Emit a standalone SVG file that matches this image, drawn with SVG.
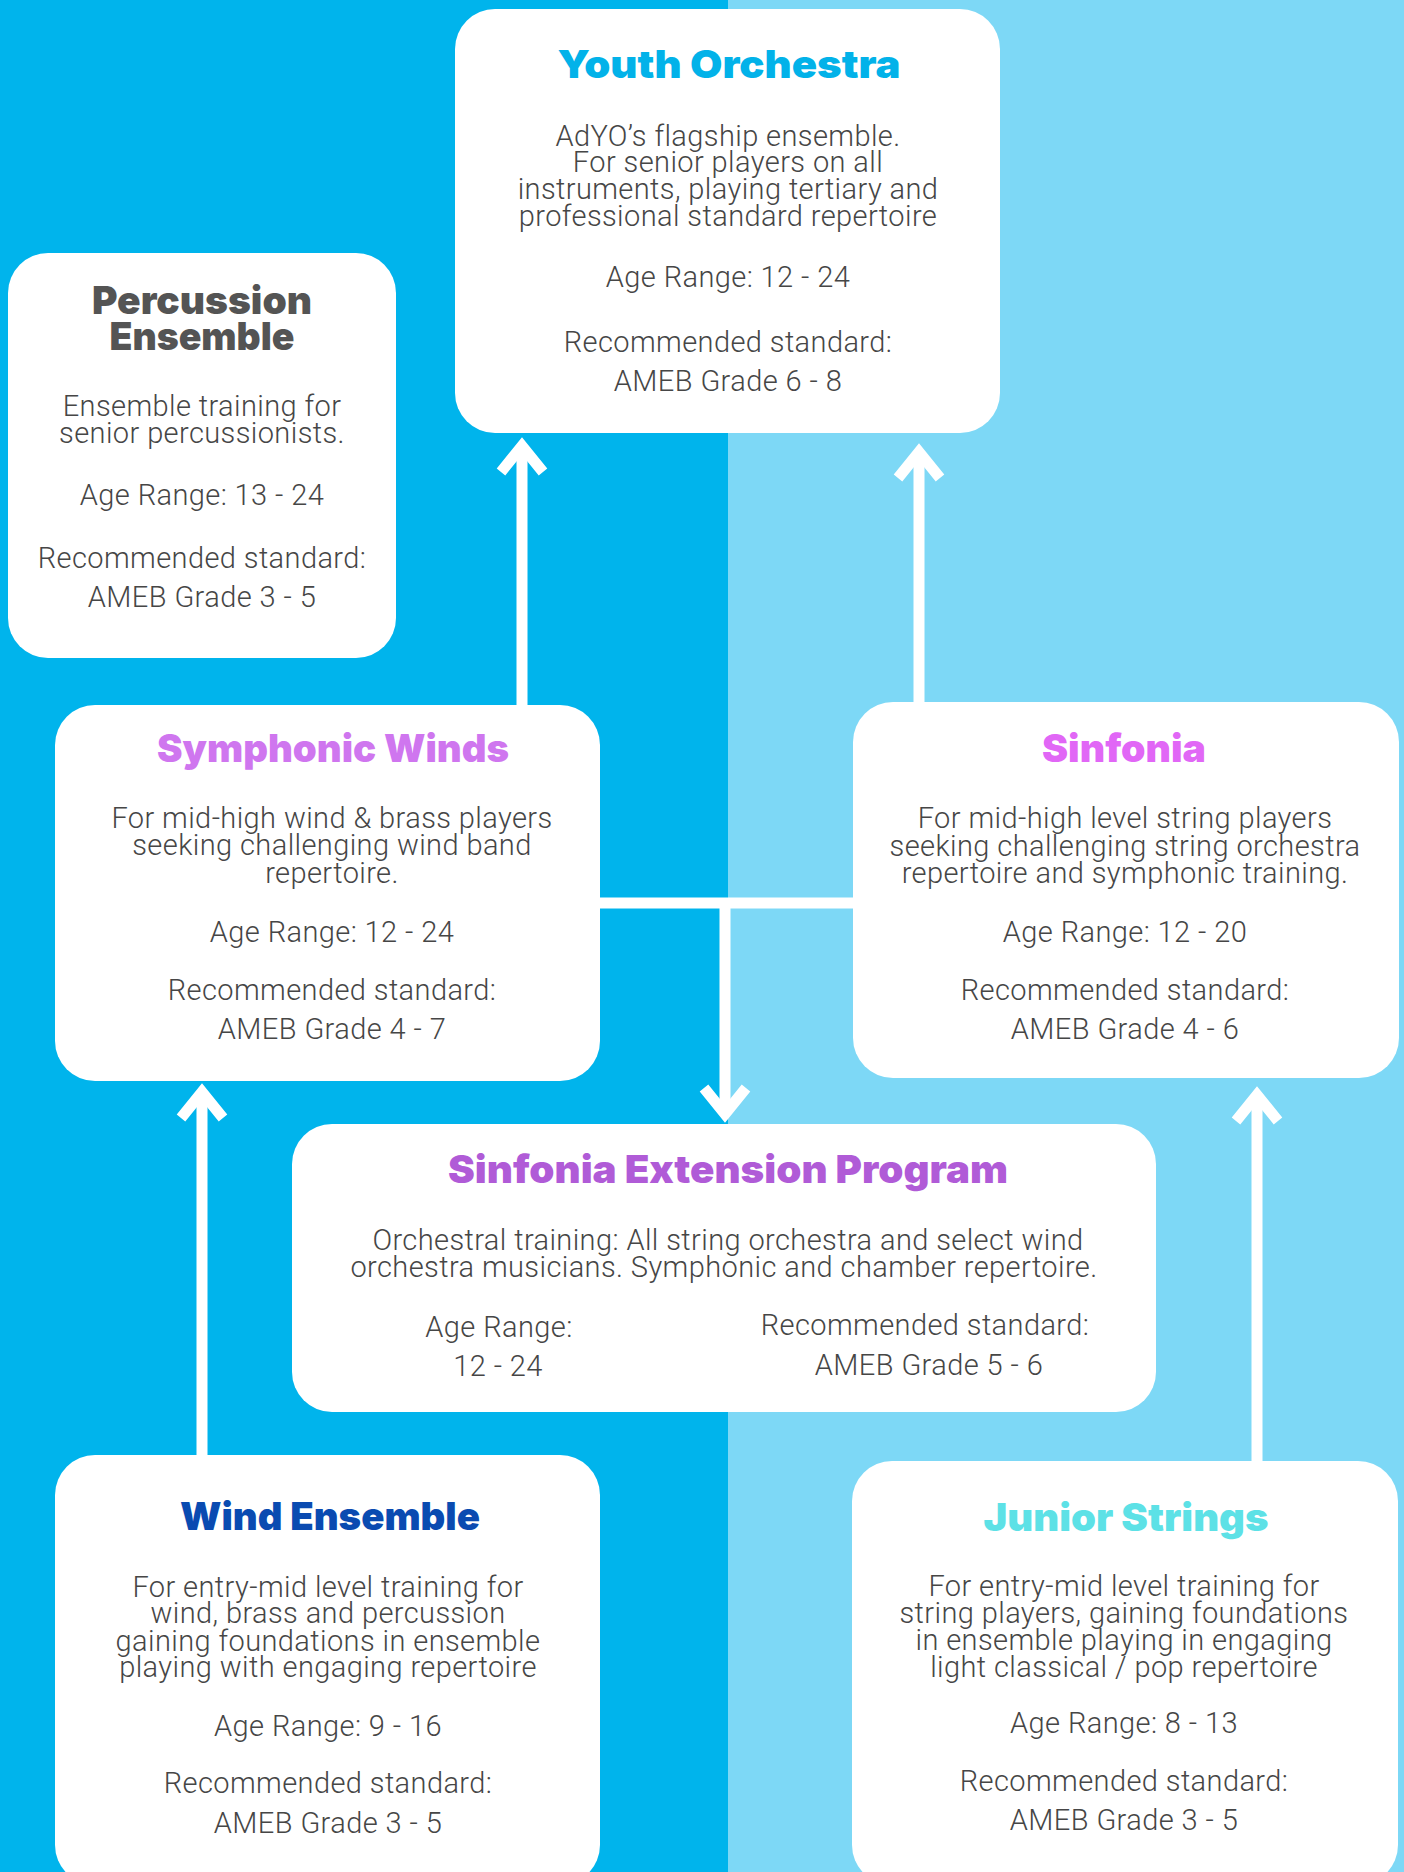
<svg xmlns="http://www.w3.org/2000/svg" width="1404" height="1872" viewBox="0 0 1404 1872">
<style>
.box{fill:#ffffff}
.t{font-family:Inter,"Open Sans",sans-serif;font-weight:900;font-size:39px;text-anchor:middle}
.b{font-family:Roboto,"Liberation Sans",sans-serif;font-weight:300;font-size:29px;fill:#464646;text-anchor:middle;letter-spacing:0.4px}
.c{stroke:#ffffff;stroke-width:11;fill:none}
</style>
<defs>
<marker id="chev" markerUnits="userSpaceOnUse" orient="auto" refX="0" refY="0" markerWidth="60" markerHeight="60" viewBox="-40 -30 50 60" overflow="visible">
<path d="M -26 -21 L 0 0 L -26 21" fill="none" stroke="#ffffff" stroke-width="11"/>
</marker>
</defs>
<rect x="0" y="0" width="728" height="1872" fill="#00b4ec"/>
<rect x="728" y="0" width="676" height="1872" fill="#7dd8f6"/>
<g id="connectors">
<path class="c" d="M522 705 L522 446" marker-end="url(#chev)"/>
<path class="c" d="M919 702 L919 452" marker-end="url(#chev)"/>
<path class="c" d="M600 903 L853 903"/>
<path class="c" d="M725 903 L725 1114" marker-end="url(#chev)"/>
<path class="c" d="M202 1455 L202 1092" marker-end="url(#chev)"/>
<path class="c" d="M1257 1461 L1257 1095" marker-end="url(#chev)"/>
</g>
<g id="youth-orchestra">
<rect class="box" x="455" y="9" width="545" height="424" rx="40"/>
<text class="t" x="729" y="78" fill="#02b2e9" textLength="343" lengthAdjust="spacingAndGlyphs">Youth Orchestra</text>
<text class="b" x="728" y="146">AdYO’s flagship ensemble.</text>
<text class="b" x="728" y="172">For senior players on all</text>
<text class="b" x="728" y="199">instruments, playing tertiary and</text>
<text class="b" x="728" y="226">professional standard repertoire</text>
<text class="b" x="728" y="287">Age Range: 12 - 24</text>
<text class="b" x="728" y="352">Recommended standard:</text>
<text class="b" x="728" y="391">AMEB Grade 6 - 8</text>
</g>
<g id="percussion-ensemble">
<rect class="box" x="8" y="253" width="388" height="405" rx="40"/>
<text class="t" x="202" y="314" fill="#545454" textLength="220" lengthAdjust="spacingAndGlyphs">Percussion</text>
<text class="t" x="202" y="350" fill="#545454" textLength="185" lengthAdjust="spacingAndGlyphs">Ensemble</text>
<text class="b" x="202" y="416">Ensemble training for</text>
<text class="b" x="202" y="443">senior percussionists.</text>
<text class="b" x="202" y="505">Age Range: 13 - 24</text>
<text class="b" x="202" y="568">Recommended standard:</text>
<text class="b" x="202" y="607">AMEB Grade 3 - 5</text>
</g>
<g id="symphonic-winds">
<rect class="box" x="55" y="705" width="545" height="376" rx="40"/>
<text class="t" x="333" y="762" fill="#cf76ef" textLength="352" lengthAdjust="spacingAndGlyphs">Symphonic Winds</text>
<text class="b" x="332" y="828">For mid-high wind &amp; brass players</text>
<text class="b" x="332" y="855">seeking challenging wind band</text>
<text class="b" x="332" y="883">repertoire.</text>
<text class="b" x="332" y="942">Age Range: 12 - 24</text>
<text class="b" x="332" y="1000">Recommended standard:</text>
<text class="b" x="332" y="1039">AMEB Grade 4 - 7</text>
</g>
<g id="sinfonia">
<rect class="box" x="853" y="702" width="546" height="376" rx="40"/>
<text class="t" x="1124" y="762" fill="#e167f6" textLength="164" lengthAdjust="spacingAndGlyphs">Sinfonia</text>
<text class="b" x="1125" y="828">For mid-high level string players</text>
<text class="b" x="1125" y="856">seeking challenging string orchestra</text>
<text class="b" x="1125" y="883">repertoire and symphonic training.</text>
<text class="b" x="1125" y="942">Age Range: 12 - 20</text>
<text class="b" x="1125" y="1000">Recommended standard:</text>
<text class="b" x="1125" y="1039">AMEB Grade 4 - 6</text>
</g>
<g id="sinfonia-extension-program">
<rect class="box" x="292" y="1124" width="864" height="288" rx="40"/>
<text class="t" x="728" y="1183" fill="#b05bd7" textLength="560" lengthAdjust="spacingAndGlyphs">Sinfonia Extension Program</text>
<text class="b" x="728" y="1250">Orchestral training: All string orchestra and select wind</text>
<text class="b" x="724" y="1277">orchestra musicians. Symphonic and chamber repertoire.</text>
<text class="b" x="499" y="1337">Age Range:</text>
<text class="b" x="498" y="1376">12 - 24</text>
<text class="b" x="925" y="1335">Recommended standard:</text>
<text class="b" x="929" y="1375">AMEB Grade 5 - 6</text>
</g>
<g id="wind-ensemble">
<rect class="box" x="55" y="1455" width="545" height="430" rx="40"/>
<text class="t" x="330" y="1530" fill="#0a4bb1" textLength="300" lengthAdjust="spacingAndGlyphs">Wind Ensemble</text>
<text class="b" x="328" y="1597">For entry-mid level training for</text>
<text class="b" x="328" y="1623">wind, brass and percussion</text>
<text class="b" x="328" y="1651">gaining foundations in ensemble</text>
<text class="b" x="328" y="1677">playing with engaging repertoire</text>
<text class="b" x="328" y="1736">Age Range: 9 - 16</text>
<text class="b" x="328" y="1793">Recommended standard:</text>
<text class="b" x="328" y="1833">AMEB Grade 3 - 5</text>
</g>
<g id="junior-strings">
<rect class="box" x="852" y="1461" width="546" height="424" rx="40"/>
<text class="t" x="1126" y="1531" fill="#5de1e6" textLength="285" lengthAdjust="spacingAndGlyphs">Junior Strings</text>
<text class="b" x="1124" y="1596">For entry-mid level training for</text>
<text class="b" x="1124" y="1623">string players, gaining foundations</text>
<text class="b" x="1124" y="1650">in ensemble playing in engaging</text>
<text class="b" x="1124" y="1677">light classical / pop repertoire</text>
<text class="b" x="1124" y="1733">Age Range: 8 - 13</text>
<text class="b" x="1124" y="1791">Recommended standard:</text>
<text class="b" x="1124" y="1830">AMEB Grade 3 - 5</text>
</g>
</svg>
